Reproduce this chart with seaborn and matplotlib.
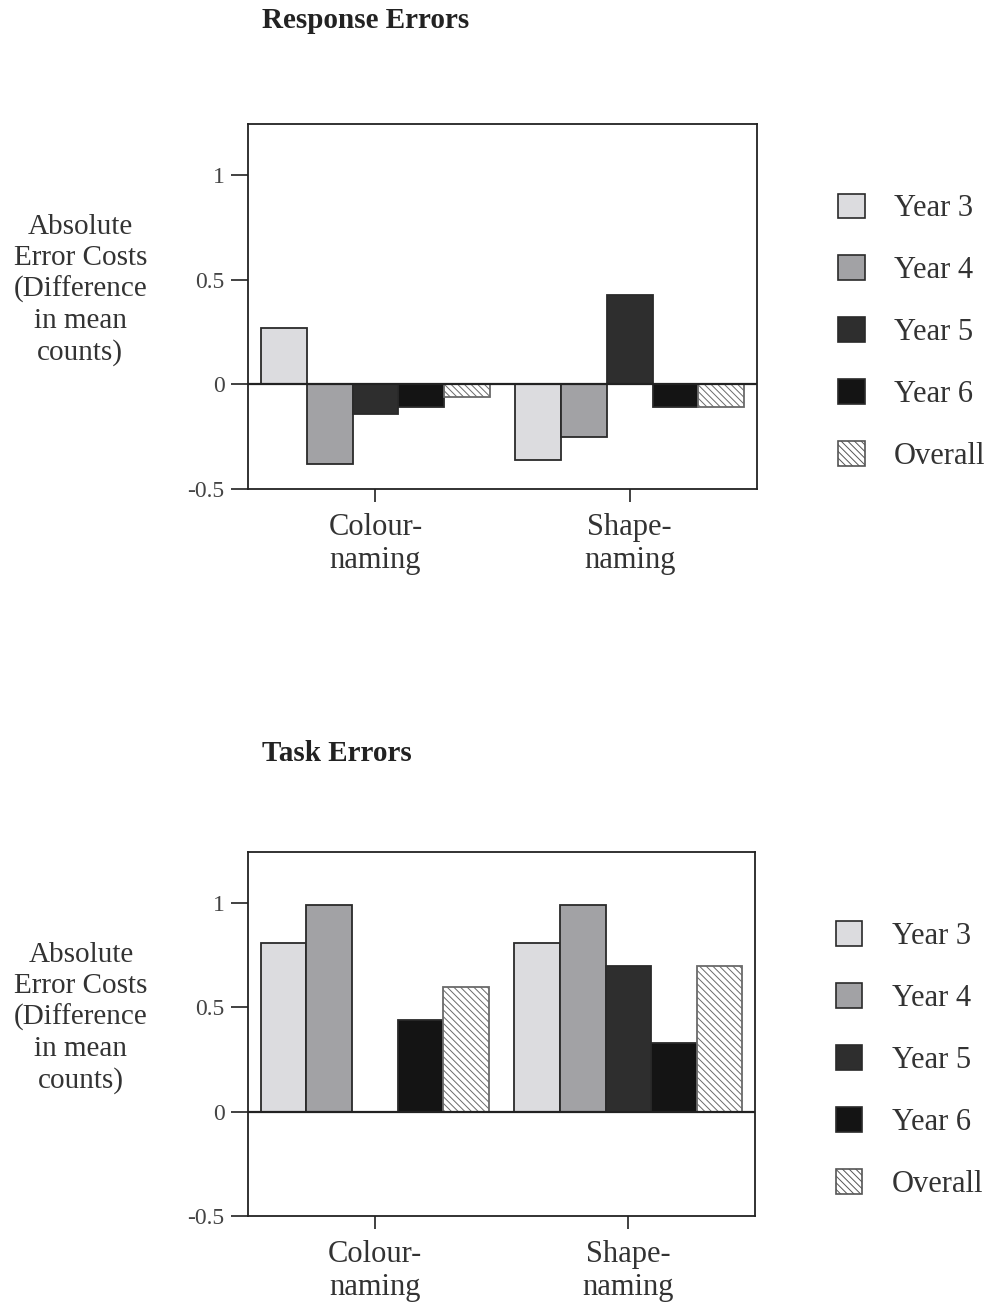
import numpy as np
import pandas as pd
import matplotlib
matplotlib.use("Agg")
import matplotlib.pyplot as plt
import matplotlib.patches as mpatches
import seaborn as sns

# task categories and groups
tasks = ["Colour-\nnaming", "Shape-\nnaming"]
groups = ["Year 3", "Year 4", "Year 5", "Year 6", "Overall"]

# response error costs (colour, shape) per group
resp_year3 = [0.27, -0.36]
resp_year4 = [-0.38, -0.25]
resp_year5 = [-0.14, 0.43]
resp_year6 = [-0.11, -0.11]
resp_overall = [-0.06, -0.11]

# task error costs (colour, shape) per group
task_year3 = [0.81, 0.81]
task_year4 = [0.99, 0.99]
task_year5 = [0.0, 0.70]
task_year6 = [0.44, 0.33]
task_overall = [0.60, 0.70]

yticks = [-0.5, 0, 0.5, 1]
ytick_labels = ["-0.5", "0", "0.5", "1"]

colors = ["#dcdcdf", "#a2a2a5", "#2e2e2e", "#141414", "#ffffff"]
HATCH = "\\\\\\\\\\"


def long_frame(series):
    rows = []
    for g, vals in zip(groups, series):
        for t, v in zip(tasks, vals):
            rows.append({"task": t, "group": g, "value": v})
    return pd.DataFrame(rows)


def draw_panel(ax, df, title, title_y):
    sns.barplot(data=df, x="task", y="value", hue="group", hue_order=groups,
                order=tasks, palette=colors, width=0.9, edgecolor="#2a2a2a",
                linewidth=1.3, saturation=1, errorbar=None, ax=ax, legend=False)
    for bar in ax.containers[-1]:
        bar.set_hatch(HATCH)
        bar.set_edgecolor("#6a6a6a")
    ax.axhline(0, color="#222222", lw=1.6, zorder=5)
    ax.set_xlim(-0.5, 1.5)
    ax.set_ylim(-0.5, 1.245)
    ax.set_yticks(yticks)
    ax.set_yticklabels(ytick_labels, fontsize=17, color="#444444")
    ax.tick_params(axis="y", left=True, length=12, width=1.3, pad=5, color="#333333")
    ax.tick_params(axis="x", bottom=True, length=9, width=1.3, pad=8, labelsize=22,
                   color="#333333", labelcolor="#333333")
    for s in ax.spines.values():
        s.set_visible(True)
        s.set_color("#222222")
        s.set_linewidth(1.3)
    ax.set_xlabel("")
    ax.set_ylabel("Absolute\nError Costs\n(Difference\nin mean\ncounts)",
                  rotation=0, fontsize=21, color="#333333", ha="center",
                  va="center", linespacing=1.24, labelpad=0)
    ax.yaxis.set_label_coords(-0.33, 0.545)
    ax.text(0.028, title_y, title, transform=ax.transAxes, fontsize=21,
            fontweight="bold", ha="left", va="center", color="#222222")
    handles = []
    for c, g in zip(colors, groups):
        if g == "Overall":
            h = mpatches.Patch(facecolor=c, edgecolor="#555555", hatch=HATCH,
                               linewidth=1.2, label=g)
        else:
            h = mpatches.Patch(facecolor=c, edgecolor="#2a2a2a", linewidth=1.2, label=g)
        handles.append(h)
    ax.legend(handles=handles, loc="upper left", bbox_to_anchor=(1.106, 0.885),
              frameon=False, fontsize=22, handlelength=0.86, handleheight=0.86,
              labelspacing=1.05, handletextpad=0.95, labelcolor="#333333")


sns.set_theme(style="white")
plt.rcParams["font.family"] = ["Liberation Serif", "DejaVu Serif"]
plt.rcParams["hatch.linewidth"] = 0.7

fig = plt.figure(figsize=(9.85, 13.02), dpi=100)
ax1 = fig.add_axes([0.252, 0.6244, 0.5165, 0.2803])
ax2 = fig.add_axes([0.252, 0.066, 0.5145, 0.2796])

df_resp = long_frame([resp_year3, resp_year4, resp_year5, resp_year6, resp_overall])
df_task = long_frame([task_year3, task_year4, task_year5, task_year6, task_overall])

draw_panel(ax1, df_resp, "Response Errors", 1.285)
draw_panel(ax2, df_task, "Task Errors", 1.27)

fig.savefig("out.png", dpi=100, facecolor="white")
